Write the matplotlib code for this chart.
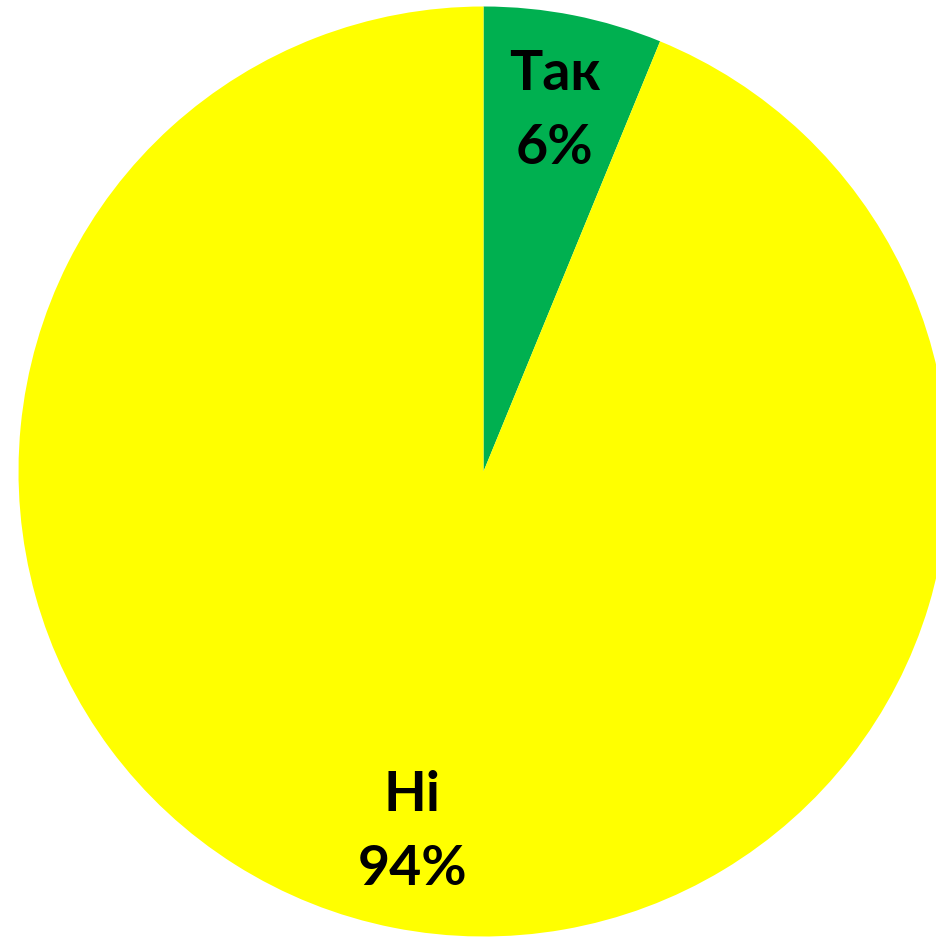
import matplotlib.pyplot as plt

labels = ['Так', 'Ні']
values = [6.2, 93.8]
colors = ['#00B050', '#FFFF00']

W, H, DPI = 937, 939, 100
cx, cy, r = 483.5, 471.5, 465.0

fig = plt.figure(figsize=(W / DPI, H / DPI), dpi=DPI)
ax = fig.add_axes([0, 0, 1, 1])

def fmt(pct, _it=iter(labels)):
    return '%s\n%d%%' % (next(_it), round(pct))

ax.pie(values, colors=colors, startangle=90, counterclock=False,
       autopct=fmt, pctdistance=0.79,
       wedgeprops={'linewidth': 0},
       textprops={'fontsize': 40, 'fontweight': 'bold', 'family': 'Lato',
                  'color': 'black', 'linespacing': 1.58})

ax.set_xlim(-cx / r, (W - cx) / r)
ax.set_ylim((cy - H) / r, cy / r)
ax.set_aspect('auto')
ax.axis('off')

fig.savefig('out.png', dpi=DPI)
